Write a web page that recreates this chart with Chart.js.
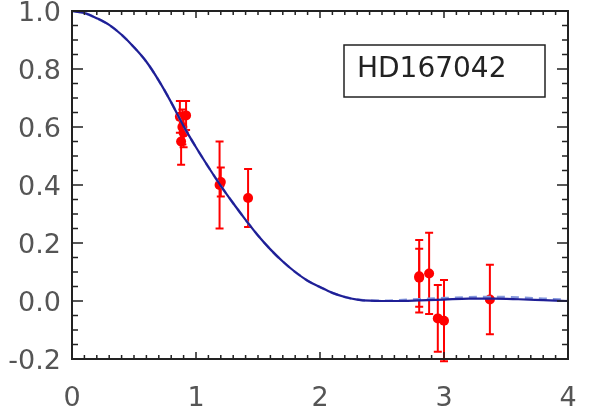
<!DOCTYPE html>
<html lang="en">
<head>
<meta charset="UTF-8">
<title>HD167042 visibility</title>
<script src="https://cdn.jsdelivr.net/npm/chart.js@4.4.1/dist/chart.umd.min.js"></script>
<style>
body {
margin: 0;
padding: 0;
background: #fff;
}
.wrap {
width: 611px;
height: 412px;
}
</style>
</head>
<body>
<div class="wrap"><canvas id="vis"></canvas></div>
<script>
// model curves
const curveX = [0, 0.1, 0.2, 0.3, 0.4, 0.5, 0.6, 0.7, 0.8, 0.9, 1.0, 1.1, 1.2, 1.3, 1.4, 1.5, 1.6, 1.7, 1.8, 1.9, 2.0,
2.1, 2.2, 2.3, 2.4, 2.5, 2.6, 2.8, 3.0, 3.2, 3.4, 3.6, 3.8, 4.0];
const modelSolid = [1.0, 0.993, 0.975, 0.952, 0.918, 0.875, 0.825, 0.76, 0.685, 0.603, 0.53, 0.462, 0.397, 0.337, 0.28, 0.226, 0.178, 0.136, 0.10, 0.07, 0.048,
0.028, 0.014, 0.005, 0.001, 0.0, 0.0, 0.002, 0.005, 0.008, 0.008, 0.006, 0.003, 0.0];
const modelDashed = [1.0, 0.993, 0.975, 0.952, 0.918, 0.875, 0.825, 0.76, 0.685, 0.603, 0.53, 0.462, 0.397, 0.337, 0.28, 0.226, 0.178, 0.136, 0.10, 0.07, 0.048,
0.028, 0.014, 0.005, 0.001, 0.001, 0.002, 0.006, 0.010, 0.013, 0.014, 0.012, 0.008, 0.004];

// measurements with 1-sigma errors
const obsX = [0.87, 0.92, 0.89, 0.90, 0.88, 1.19, 1.20, 1.42, 2.80, 2.80, 2.88, 2.95, 3.00, 3.37];
const obsY = [0.635, 0.64, 0.60, 0.58, 0.55, 0.40, 0.41, 0.355, 0.085, 0.08, 0.095, -0.06, -0.068, 0.005];
const obsErr = [0.055, 0.05, 0.06, 0.05, 0.08, 0.15, 0.05, 0.10, 0.125, 0.10, 0.14, 0.115, 0.14, 0.12];

const starName = 'HD167042';

const toXY = (xs, ys) => xs.map((x, i) => ({x: x, y: ys[i]}));

// error bars under the points
const errorBars = {
id: 'errorBars',
beforeDatasetsDraw(chart) {
const {ctx, scales: {x, y}} = chart;
ctx.save();
ctx.strokeStyle = '#ff0000';
ctx.lineWidth = 2;
obsX.forEach((v, i) => {
const px = x.getPixelForValue(v);
const top = y.getPixelForValue(obsY[i] + obsErr[i]);
const bot = y.getPixelForValue(obsY[i] - obsErr[i]);
ctx.beginPath();
ctx.moveTo(px, top); ctx.lineTo(px, bot);
ctx.moveTo(px - 4, top); ctx.lineTo(px + 4, top);
ctx.moveTo(px - 4, bot); ctx.lineTo(px + 4, bot);
ctx.stroke();
});
ctx.restore();
}
};

// IDL-style box with inward ticks and the star label
const frame = {
id: 'frame',
afterDraw(chart) {
const {ctx, chartArea: a, scales: {x, y}} = chart;
ctx.save();
ctx.strokeStyle = '#222';
ctx.lineWidth = 2;
ctx.strokeRect(a.left, a.top, a.right - a.left, a.bottom - a.top);
ctx.lineWidth = 1.5;
ctx.beginPath();
for (let i = 0; i <= 40; i++) {
const px = x.getPixelForValue(i / 10);
const len = i % 10 === 0 ? 7 : 4;
ctx.moveTo(px, a.bottom); ctx.lineTo(px, a.bottom - len);
ctx.moveTo(px, a.top); ctx.lineTo(px, a.top + len);
}
for (let i = 0; i <= 24; i++) {
const py = y.getPixelForValue(-0.2 + i * 0.05);
const len = i % 4 === 0 ? 11 : 6;
ctx.moveTo(a.left, py); ctx.lineTo(a.left + len, py);
ctx.moveTo(a.right, py); ctx.lineTo(a.right - len, py);
}
ctx.stroke();

// label box
const bx = a.right - 224, by = a.top + 34, bw = 201, bh = 52;
ctx.lineWidth = 1.5;
ctx.strokeStyle = '#222';
ctx.strokeRect(bx, by, bw, bh);
ctx.fillStyle = '#222';
ctx.font = '28px "DejaVu Sans"';
ctx.textBaseline = 'middle';
ctx.fillText(starName, bx + 13, by + bh / 2 - 1);
ctx.restore();
}
};

new Chart(document.getElementById('vis'), {
type: 'scatter',
data: {
datasets: [
{
data: toXY(curveX, modelSolid),
showLine: true,
borderColor: '#1f1f96',
borderWidth: 2.2,
pointRadius: 0,
cubicInterpolationMode: 'monotone'
},
{
data: toXY(curveX, modelDashed),
showLine: true,
borderColor: '#8597dc',
borderWidth: 2.5,
borderDash: [8, 6],
pointRadius: 0,
cubicInterpolationMode: 'monotone'
},
{
data: toXY(obsX, obsY),
backgroundColor: '#ff0000',
borderColor: '#ff0000',
pointRadius: 5,
pointBorderWidth: 0
}
]
},
options: {
responsive: true,
maintainAspectRatio: false,
animation: false,
layout: {padding: {top: 11, right: 43, left: 0, bottom: 0}},
plugins: {legend: {display: false}, tooltip: {enabled: false}},
scales: {
x: {
type: 'linear',
min: 0,
max: 4,
ticks: {
stepSize: 1,
padding: 24,
color: '#555',
font: {family: 'DejaVu Sans', size: 27},
maxRotation: 0
},
grid: {display: false, drawTicks: false},
border: {display: false},
afterFit(scale) {
scale.height = 53;
scale.paddingLeft = 0;
scale.paddingRight = 0;
}
},
y: {
min: -0.2,
max: 1.0,
ticks: {
stepSize: 0.2,
padding: 11,
labelOffset: 3,
color: '#555',
font: {family: 'DejaVu Sans', size: 27},
callback: v => (Math.abs(v) < 1e-9 ? 0 : v).toFixed(1)
},
grid: {display: false, drawTicks: false},
border: {display: false},
afterFit(scale) {
scale.width = 72;
scale.paddingTop = 0;
scale.paddingBottom = 0;
}
}
}
},
plugins: [errorBars, frame]
});
</script>
</body>
</html>
